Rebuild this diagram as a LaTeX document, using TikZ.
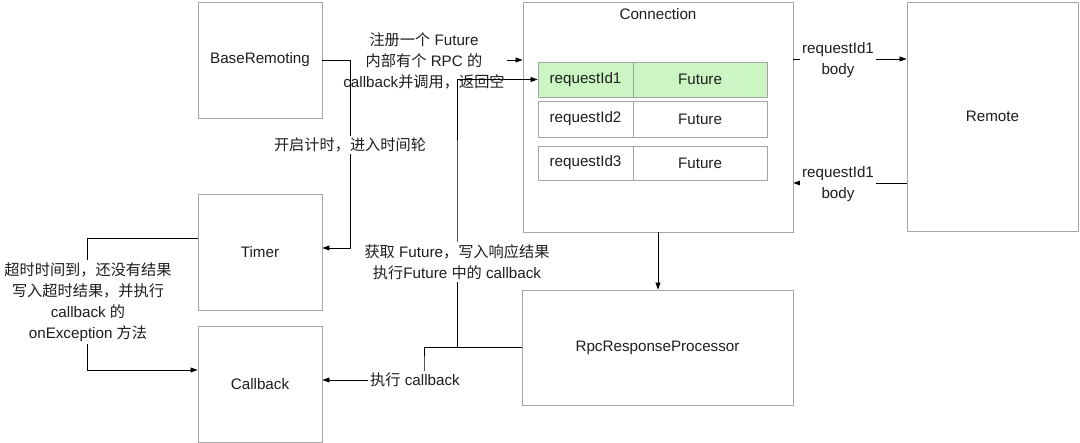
\documentclass[tikz,border=0pt]{standalone}
\usepackage{fontspec}
\setmainfont{Liberation Sans}
\newfontfamily\cjk{Noto Sans CJK SC}
\newcommand{\zh}[1]{{\cjk #1}}
\usetikzlibrary{arrows.meta,calc}
\definecolor{boxgray}{RGB}{165,165,165}
\definecolor{rowgreen}{RGB}{204,245,196}
\definecolor{txt}{RGB}{30,30,30}
\begin{document}
\begin{tikzpicture}[x=1pt,y=-1pt,
  every node/.style={font=\fontsize{15.2}{21}\selectfont, text=txt},
  box/.style={draw=boxgray, line width=0.9pt, inner sep=0pt},
  cell/.style={draw=boxgray, line width=0.9pt, inner sep=0pt, minimum height=35pt},
  arr/.style={draw=black, line width=0.7pt, -{Triangle[length=7pt,width=5pt]}},
  lbl/.style={fill=white, align=center, inner sep=2pt}]
\useasboundingbox (0,0) rectangle (1080,443);
\fill[white] (0,0) rectangle (1080,443);
% boxes
\node[box, minimum width=124pt, minimum height=116pt] (base) at (260,60) {BaseRemoting};
\node[box, minimum width=124pt, minimum height=116pt] (timer) at (260,252) {Timer};
\node[box, minimum width=124pt, minimum height=116pt] (callback) at (260,384) {Callback};
\node[box, minimum width=270pt, minimum height=230pt] (conn) at (658,117) {};
\node (conntitle) at (658,14) {Connection};
\node[box, minimum width=171pt, minimum height=229pt] (remote) at (992.5,116.5) {Remote};
\node[box, minimum width=271pt, minimum height=115pt] (rpc) at (657.5,347.5) {RpcResponseProcessor};
% table rows
\node[cell, fill=rowgreen, minimum width=95pt] (r1a) at (585.5,79.5) {requestId1};
\node[cell, fill=rowgreen, minimum width=134pt] (r1b) at (700,79.5) {Future};
\node[cell, minimum width=95pt, minimum height=36pt] (r2a) at (585.5,119) {requestId2};
\node[cell, minimum width=134pt, minimum height=36pt] (r2b) at (700,119) {Future};
\node[cell, minimum width=95pt, minimum height=34pt] (r3a) at (585.5,163) {requestId3};
\node[cell, minimum width=134pt, minimum height=34pt] (r3b) at (700,163) {Future};
% connectors
\draw[arr] (base.east) -- (base.east -| conn.west);
\node[lbl] (l1) at (424,61) {\zh{注册一个} Future\\\zh{内部有个} RPC \zh{的}\\callback\zh{并调用，返回空}};
\draw[arr] (base.east) -- (350,60) -- (350,248) -- ([yshift=4pt]timer.east);
\node[lbl] (l2) at (350,145) {\zh{开启计时，进入时间轮}};
\draw[arr] ([yshift=14pt]timer.west) -| (87,300) |- ([yshift=14pt]callback.west);
\node[lbl, inner sep=3pt] (l3) at (88,302) {\zh{超时时间到，还没有结果}\\\zh{写入超时结果，并执行}\\callback \zh{的}\\onException \zh{方法}};
\draw[arr] (rpc.west) -| (457,200) |- (r1a.west);
\node[lbl] (l4) at (457,262) {\zh{获取} Future\zh{，写入响应结果}\\\zh{执行}Future \zh{中的} callback};
\draw[arr] (rpc.west) -| (424,365) |- ([yshift=4pt]callback.east);
\node[lbl] (l5) at (415,380) {\zh{执行} callback};
\coordinate (cr1) at ([yshift=58pt]conn.east);
\draw[arr] (cr1) -- (cr1 -| remote.west);
\node[lbl] (l6) at (838,60) {requestId1\\body};
\coordinate (cr2) at ([yshift=-66pt]conn.east);
\draw[arr] (cr2 -| remote.west) -- (cr2);
\node[lbl] (l7) at (838,184) {requestId1\\body};
\draw[arr] (conn.south) -- (conn.south |- rpc.north);
\end{tikzpicture}
\end{document}
